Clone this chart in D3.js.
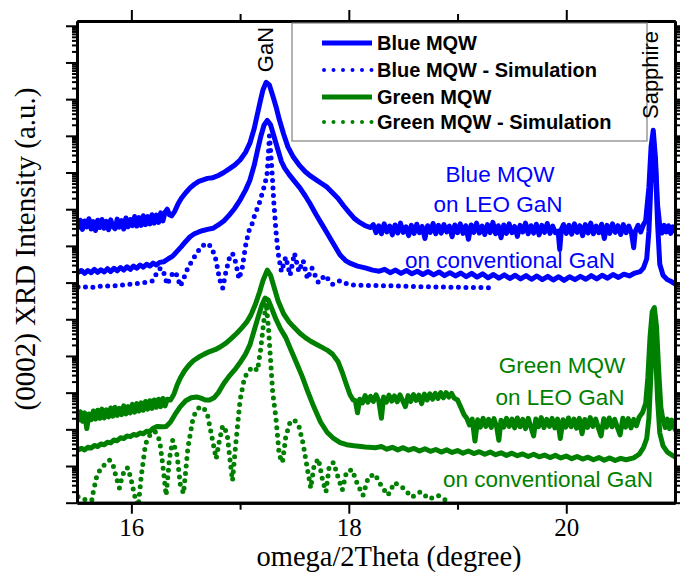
<!DOCTYPE html>
<html><head><meta charset="utf-8">
<script src="https://cdn.jsdelivr.net/npm/d3@7"></script>
<style>body{margin:0;background:#fff}svg{display:block}</style>
</head><body>
<svg id="c" width="680" height="572"></svg>
<script>
// ---- data: [omega/2Theta (deg), log10 intensity (a.u.)] ----
const blueLeo = [[15.51,7.50],[15.53,7.70],[15.55,7.45],[15.57,7.68],[15.59,7.52],[15.61,7.74],[15.63,7.46],[15.65,7.66],[15.67,7.42],[15.69,7.70],[15.71,7.50],[15.73,7.72],[15.75,7.48],[15.77,7.67],[15.79,7.44],[15.81,7.71],[15.83,7.53],[15.85,7.47],[15.87,7.73],[15.89,7.51],[15.91,7.69],[15.93,7.46],[15.95,7.76],[15.97,7.52],[15.99,7.72],[16.01,7.55],[16.03,7.80],[16.05,7.54],[16.07,7.77],[16.09,7.56],[16.11,7.82],[16.13,7.58],[16.15,7.80],[16.17,7.60],[16.19,7.85],[16.21,7.62],[16.23,7.84],[16.25,7.64],[16.27,7.90],[16.29,7.68],[16.31,7.92],[16.33,8.00],[16.35,7.85],[16.37,7.82],[16.40,7.95],[16.43,8.15],[16.46,8.30],[16.50,8.45],[16.54,8.58],[16.58,8.68],[16.62,8.76],[16.66,8.80],[16.70,8.84],[16.75,8.86],[16.80,8.92],[16.85,9.00],[16.90,9.10],[16.95,9.20],[17.00,9.34],[17.05,9.55],[17.09,9.80],[17.13,10.20],[17.16,10.60],[17.19,11.00],[17.21,11.25],[17.24,11.46],[17.27,11.38],[17.30,11.10],[17.33,10.80],[17.36,10.45],[17.40,10.05],[17.44,9.70],[17.49,9.42],[17.55,9.18],[17.60,9.02],[17.65,8.90],[17.70,8.80],[17.75,8.70],[17.80,8.60],[17.85,8.45],[17.90,8.30],[17.95,8.10],[18.00,7.92],[18.05,7.75],[18.10,7.64],[18.15,7.55],[18.20,7.50],[18.225,7.58],[18.25,7.36],[18.275,7.55],[18.30,7.33],[18.325,7.60],[18.35,7.38],[18.375,7.54],[18.40,7.30],[18.425,7.57],[18.45,7.35],[18.475,7.62],[18.50,7.37],[18.525,7.52],[18.55,7.28],[18.575,7.56],[18.60,7.34],[18.625,7.59],[18.65,7.36],[18.675,7.53],[18.70,7.20],[18.725,7.55],[18.75,7.37],[18.775,7.61],[18.80,7.33],[18.825,7.56],[18.85,7.35],[18.875,7.58],[18.90,7.38],[18.925,7.54],[18.95,7.25],[18.975,7.57],[19.00,7.36],[19.025,7.60],[19.05,7.34],[19.075,7.55],[19.10,7.18],[19.125,7.57],[19.15,7.37],[19.175,7.62],[19.20,7.35],[19.225,7.54],[19.25,7.31],[19.275,7.58],[19.30,7.36],[19.325,7.64],[19.35,7.33],[19.375,7.55],[19.40,7.22],[19.425,7.57],[19.45,7.34],[19.475,7.60],[19.50,7.36],[19.525,7.53],[19.55,7.26],[19.575,7.56],[19.60,7.38],[19.625,7.62],[19.65,7.33],[19.675,7.55],[19.70,7.35],[19.725,7.59],[19.75,7.30],[19.775,7.56],[19.80,7.37],[19.825,7.61],[19.85,7.34],[19.875,7.54],[19.90,7.36],[19.925,7.40],[19.94,6.90],[19.955,7.45],[19.975,7.58],[20.00,7.34],[20.025,7.56],[20.05,7.32],[20.075,7.60],[20.10,7.37],[20.125,7.55],[20.15,7.28],[20.175,7.58],[20.20,7.35],[20.225,7.62],[20.25,7.33],[20.275,7.54],[20.30,7.36],[20.325,7.59],[20.35,7.20],[20.375,7.56],[20.40,7.34],[20.425,7.60],[20.45,7.37],[20.475,7.55],[20.50,7.31],[20.525,7.58],[20.55,7.36],[20.575,7.54],[20.60,7.35],[20.62,6.95],[20.635,7.40],[20.66,7.56],[20.685,7.38],[20.71,7.58],[20.73,7.68],[20.76,8.60],[20.78,9.70],[20.80,10.15],[20.82,9.40],[20.84,8.10],[20.86,7.55],[20.88,7.35],[20.90,7.56],[20.92,7.38],[20.94,7.55],[20.96,7.34],[20.98,7.52],[21.00,7.40]];

const blueConv = [[15.51,6.28],[15.54,6.33],[15.57,6.25],[15.60,6.33],[15.63,6.27],[15.66,6.36],[15.69,6.28],[15.72,6.35],[15.75,6.29],[15.78,6.38],[15.81,6.30],[15.84,6.39],[15.87,6.32],[15.90,6.41],[15.93,6.34],[15.96,6.43],[15.99,6.36],[16.02,6.45],[16.05,6.39],[16.08,6.48],[16.11,6.42],[16.14,6.50],[16.17,6.45],[16.20,6.53],[16.23,6.48],[16.26,6.55],[16.30,6.57],[16.34,6.65],[16.38,6.72],[16.42,6.85],[16.46,6.98],[16.50,7.12],[16.54,7.25],[16.58,7.33],[16.62,7.38],[16.66,7.42],[16.70,7.45],[16.75,7.48],[16.80,7.57],[16.85,7.68],[16.90,7.84],[16.95,8.02],[17.00,8.25],[17.05,8.52],[17.09,8.79],[17.13,9.20],[17.16,9.60],[17.19,9.98],[17.22,10.29],[17.25,10.42],[17.28,10.30],[17.31,10.00],[17.35,9.60],[17.38,9.30],[17.41,9.12],[17.45,8.95],[17.49,8.80],[17.55,8.58],[17.60,8.36],[17.64,8.17],[17.70,7.85],[17.75,7.60],[17.80,7.35],[17.85,7.10],[17.92,6.75],[17.97,6.60],[18.01,6.53],[18.08,6.45],[18.15,6.40],[18.22,6.34],[18.28,6.31],[18.33,6.36],[18.38,6.27],[18.43,6.34],[18.48,6.25],[18.53,6.33],[18.58,6.24],[18.63,6.31],[18.68,6.22],[18.73,6.30],[18.78,6.21],[18.83,6.29],[18.88,6.19],[18.93,6.27],[18.98,6.18],[19.03,6.26],[19.08,6.16],[19.13,6.25],[19.18,6.15],[19.23,6.24],[19.28,6.13],[19.33,6.22],[19.38,6.12],[19.43,6.21],[19.48,6.11],[19.53,6.20],[19.58,6.10],[19.63,6.19],[19.68,6.09],[19.73,6.18],[19.78,6.08],[19.83,6.17],[19.88,6.07],[19.93,6.16],[19.98,6.06],[20.03,6.16],[20.08,6.08],[20.13,6.17],[20.18,6.09],[20.23,6.19],[20.28,6.10],[20.33,6.20],[20.38,6.12],[20.43,6.22],[20.48,6.14],[20.53,6.23],[20.58,6.18],[20.63,6.26],[20.68,6.30],[20.71,6.40],[20.74,6.65],[20.76,7.40],[20.78,8.80],[20.80,9.95],[20.82,9.20],[20.84,7.60],[20.86,6.50],[20.89,6.20],[20.93,6.08],[20.97,6.02],[21.00,5.96]];

const blueSim = [[15.51,5.88],[15.55,5.86],[15.60,5.89],[15.65,5.87],[15.70,5.90],[15.75,5.89],[15.80,5.92],[15.85,5.91],[15.90,5.94],[15.95,5.93],[16.00,5.96],[16.05,5.97],[16.10,5.99],[16.15,6.02],[16.20,6.05],[16.24,6.30],[16.27,6.40],[16.30,6.25],[16.33,5.95],[16.36,6.15],[16.39,6.30],[16.42,6.20],[16.45,5.90],[16.48,6.10],[16.52,6.40],[16.56,6.60],[16.60,6.80],[16.65,7.00],[16.70,7.07],[16.74,6.95],[16.78,6.60],[16.81,6.10],[16.84,5.85],[16.87,6.30],[16.90,6.65],[16.93,6.80],[16.96,6.55],[16.99,6.10],[17.02,6.40],[17.05,7.00],[17.08,7.40],[17.11,7.60],[17.14,7.90],[17.17,8.10],[17.20,8.40],[17.23,8.70],[17.25,9.00],[17.27,10.00],[17.29,9.20],[17.31,8.20],[17.33,7.40],[17.35,6.80],[17.38,6.30],[17.42,6.70],[17.46,6.20],[17.50,6.80],[17.54,6.30],[17.58,6.60],[17.62,6.10],[17.66,6.40],[17.72,6.00],[17.78,6.20],[17.85,5.95],[17.92,6.05],[18.00,5.94],[18.20,5.92],[18.40,5.91],[18.60,5.89],[18.80,5.88],[19.00,5.87],[19.30,5.86]];

const greenLeo = [[15.51,2.25],[15.53,2.48],[15.55,2.22],[15.57,2.45],[15.59,2.02],[15.61,2.42],[15.63,2.26],[15.65,2.50],[15.67,2.28],[15.69,2.52],[15.71,2.30],[15.73,2.55],[15.75,2.31],[15.77,2.53],[15.79,2.34],[15.81,2.58],[15.83,2.36],[15.85,2.60],[15.87,2.38],[15.89,2.57],[15.91,2.40],[15.93,2.64],[15.95,2.42],[15.97,2.62],[15.99,2.45],[16.01,2.68],[16.03,2.47],[16.05,2.70],[16.07,2.50],[16.09,2.72],[16.11,2.52],[16.13,2.76],[16.15,2.55],[16.17,2.78],[16.19,2.57],[16.21,2.80],[16.23,2.60],[16.25,2.82],[16.27,2.62],[16.29,2.84],[16.31,2.64],[16.33,2.82],[16.36,2.80],[16.39,2.95],[16.42,3.20],[16.45,3.40],[16.49,3.60],[16.53,3.75],[16.57,3.87],[16.62,3.97],[16.67,4.05],[16.72,4.12],[16.77,4.17],[16.82,4.25],[16.87,4.35],[16.92,4.48],[16.97,4.62],[17.02,4.78],[17.06,4.92],[17.10,5.12],[17.14,5.40],[17.18,5.75],[17.21,6.05],[17.25,6.34],[17.28,6.20],[17.31,5.90],[17.35,5.50],[17.40,5.15],[17.45,4.93],[17.49,4.80],[17.55,4.62],[17.60,4.50],[17.65,4.40],[17.70,4.32],[17.75,4.24],[17.80,4.16],[17.85,4.05],[17.90,3.85],[17.94,3.55],[17.98,3.20],[18.01,2.95],[18.04,2.80],[18.06,2.78],[18.08,2.45],[18.10,2.82],[18.125,2.72],[18.15,2.92],[18.175,2.74],[18.20,2.90],[18.225,2.76],[18.25,2.94],[18.275,2.78],[18.30,2.30],[18.32,2.88],[18.345,2.74],[18.37,2.93],[18.395,2.77],[18.42,2.91],[18.445,2.75],[18.47,2.94],[18.495,2.78],[18.52,2.62],[18.545,2.92],[18.57,2.76],[18.595,2.95],[18.62,2.79],[18.645,2.93],[18.67,2.70],[18.695,2.96],[18.72,2.80],[18.745,2.97],[18.77,2.82],[18.795,2.98],[18.82,2.84],[18.845,3.00],[18.87,2.86],[18.895,3.00],[18.92,2.88],[18.945,2.98],[18.97,2.85],[19.00,2.80],[19.03,2.60],[19.06,2.40],[19.085,2.30],[19.11,2.12],[19.135,2.28],[19.16,1.68],[19.185,2.26],[19.21,2.06],[19.235,2.30],[19.26,2.08],[19.285,2.27],[19.31,2.05],[19.335,2.29],[19.36,2.07],[19.38,1.70],[19.40,2.25],[19.425,2.06],[19.45,2.30],[19.475,2.08],[19.50,2.28],[19.525,2.04],[19.55,2.31],[19.575,2.07],[19.60,2.27],[19.625,2.02],[19.65,2.30],[19.675,2.06],[19.70,1.82],[19.72,2.28],[19.745,2.07],[19.77,2.32],[19.795,2.05],[19.82,2.27],[19.845,2.08],[19.87,2.30],[19.895,2.04],[19.92,2.28],[19.945,1.75],[19.97,2.26],[19.995,2.06],[20.02,2.31],[20.045,2.07],[20.07,2.28],[20.095,2.03],[20.12,2.30],[20.145,1.88],[20.17,2.27],[20.195,2.05],[20.22,2.32],[20.245,2.08],[20.27,2.28],[20.295,2.04],[20.32,1.82],[20.345,2.29],[20.37,2.06],[20.395,2.31],[20.42,2.07],[20.445,2.27],[20.47,2.05],[20.495,1.85],[20.52,2.30],[20.545,2.06],[20.57,2.29],[20.595,2.04],[20.62,2.27],[20.645,2.10],[20.67,2.33],[20.70,2.45],[20.73,2.70],[20.75,3.40],[20.77,4.50],[20.79,5.20],[20.81,5.32],[20.83,4.80],[20.85,3.60],[20.87,2.60],[20.89,2.25],[20.91,2.05],[20.93,2.28],[20.95,2.02],[20.97,2.25],[21.00,2.00]];

const greenConv = [[15.51,1.44],[15.54,1.48],[15.57,1.44],[15.60,1.51],[15.63,1.49],[15.66,1.56],[15.69,1.53],[15.72,1.60],[15.75,1.58],[15.78,1.65],[15.81,1.63],[15.84,1.71],[15.87,1.69],[15.90,1.77],[15.93,1.75],[15.96,1.82],[15.99,1.80],[16.02,1.86],[16.05,1.84],[16.08,1.90],[16.11,1.88],[16.14,1.95],[16.17,1.94],[16.20,2.03],[16.24,2.08],[16.28,2.07],[16.32,2.08],[16.36,2.20],[16.40,2.40],[16.45,2.62],[16.50,2.78],[16.55,2.86],[16.60,2.88],[16.64,2.85],[16.68,2.80],[16.72,2.80],[16.76,2.86],[16.80,3.00],[16.85,3.25],[16.90,3.45],[16.95,3.62],[17.00,3.82],[17.05,4.05],[17.09,4.30],[17.13,4.70],[17.17,5.10],[17.20,5.38],[17.23,5.58],[17.26,5.52],[17.29,5.30],[17.33,5.00],[17.37,4.75],[17.42,4.50],[17.47,4.15],[17.52,3.80],[17.57,3.45],[17.62,3.05],[17.68,2.60],[17.74,2.20],[17.80,1.92],[17.86,1.75],[17.92,1.64],[17.98,1.58],[18.05,1.55],[18.15,1.52],[18.25,1.50],[18.30,1.53],[18.35,1.46],[18.40,1.51],[18.45,1.44],[18.50,1.50],[18.55,1.43],[18.60,1.48],[18.65,1.41],[18.70,1.47],[18.75,1.40],[18.80,1.45],[18.85,1.38],[18.90,1.44],[18.95,1.37],[19.00,1.42],[19.05,1.35],[19.10,1.41],[19.15,1.34],[19.20,1.39],[19.25,1.32],[19.30,1.38],[19.35,1.31],[19.40,1.36],[19.45,1.29],[19.50,1.35],[19.55,1.28],[19.60,1.33],[19.65,1.26],[19.70,1.32],[19.75,1.25],[19.80,1.30],[19.85,1.23],[19.90,1.29],[19.95,1.22],[20.00,1.27],[20.05,1.20],[20.10,1.26],[20.15,1.19],[20.20,1.24],[20.25,1.17],[20.30,1.23],[20.35,1.16],[20.40,1.22],[20.45,1.15],[20.50,1.21],[20.55,1.17],[20.62,1.22],[20.67,1.32],[20.71,1.50],[20.74,1.75],[20.76,2.30],[20.78,3.60],[20.80,5.00],[20.82,4.20],[20.84,2.80],[20.86,1.90],[20.89,1.55],[20.93,1.38],[20.97,1.30],[21.00,1.25]];

const greenSim = [[15.51,0.16],[15.55,0.14],[15.59,0.05],[15.62,-0.20],[15.65,0.30],[15.68,0.70],[15.72,0.95],[15.76,1.05],[15.80,1.16],[15.83,1.05],[15.86,0.70],[15.89,0.40],[15.91,0.65],[15.94,0.92],[15.97,0.95],[16.00,0.60],[16.03,0.20],[16.06,-0.20],[16.09,0.70],[16.13,1.60],[16.18,1.90],[16.22,1.93],[16.26,1.70],[16.29,1.00],[16.32,0.20],[16.35,1.20],[16.38,1.70],[16.42,1.30],[16.45,0.50],[16.48,0.25],[16.52,1.50],[16.57,2.35],[16.62,2.58],[16.66,2.61],[16.70,2.40],[16.74,1.80],[16.78,1.20],[16.81,1.70],[16.84,2.10],[16.88,1.90],[16.91,1.10],[16.93,0.60],[16.96,1.60],[17.00,2.80],[17.04,3.40],[17.08,3.60],[17.12,3.70],[17.16,3.60],[17.19,4.20],[17.22,5.00],[17.24,5.44],[17.26,4.80],[17.28,3.90],[17.30,3.00],[17.33,2.30],[17.36,1.30],[17.39,1.10],[17.42,1.80],[17.46,2.20],[17.50,2.25],[17.54,2.10],[17.58,1.60],[17.62,0.90],[17.65,0.40],[17.68,1.00],[17.72,1.20],[17.76,0.60],[17.79,0.30],[17.82,1.00],[17.86,1.10],[17.90,0.70],[17.94,0.35],[17.98,0.85],[18.03,0.90],[18.08,0.50],[18.13,0.20],[18.18,0.70],[18.24,0.78],[18.30,0.45],[18.36,0.20],[18.42,0.55],[18.50,0.40],[18.58,0.15],[18.66,0.30],[18.74,0.10],[18.82,0.20],[18.90,0.05]];

const xMajorTicks = [16, 18, 20];
const xMinorTicks = [17, 19];
const legendLabels = ["Blue MQW", "Blue MQW - Simulation", "Green MQW", "Green MQW - Simulation"];
const xTitle = "omega/2Theta (degree)";
const yTitle = "(0002) XRD Intensity (a.u.)";

// ---- drawing ----
const BLUE = "#0000ff", GREEN = "#008000";
const svg = d3.select("#c");
const L = 77, R = 675, T = 21, B = 502.7;
const x = d3.scaleLinear().domain([15.5, 21]).range([L, R]);
const y = d3.scaleLog().domain([1, Math.pow(10, 13.13)]).range([B, T]);

svg.append("defs").append("clipPath").attr("id", "clip")
  .append("rect").attr("x", L).attr("y", T).attr("width", R - L).attr("height", B - T);

const line = d3.line().x(d => x(d[0])).y(d => y(Math.pow(10, d[1])));
const plot = svg.append("g").attr("clip-path", "url(#clip)");

function solid(data, color) {
  plot.append("path").datum(data).attr("d", line)
    .attr("fill", "none").attr("stroke", color).attr("stroke-width", 5)
    .attr("stroke-linejoin", "round").attr("stroke-linecap", "round");
}
function dotted(data, color) {
  plot.append("path").datum(data).attr("d", line)
    .attr("fill", "none").attr("stroke", color).attr("stroke-width", 5)
    .attr("stroke-dasharray", "0 7.5").attr("stroke-linecap", "round");
}
solid(blueLeo, BLUE);
solid(blueConv, BLUE);
dotted(blueSim, BLUE);
solid(greenLeo, GREEN);
solid(greenConv, GREEN);
dotted(greenSim, GREEN);

// log ticks
const majorY = [], minorY = [];
for (let k = 0; k <= 13; k++) {
  majorY.push(Math.pow(10, k));
  if (k < 13) for (let m = 2; m <= 9; m++) minorY.push(m * Math.pow(10, k));
}
const ax = svg.append("g");
function styleAxis(g) {
  g.selectAll("path.domain").attr("stroke", "#000").attr("stroke-width", 3);
  g.selectAll(".tick line").attr("stroke", "#000").attr("stroke-width", 2);
}
ax.append("g").attr("transform", `translate(${L},0)`)
  .call(d3.axisLeft(y).tickValues(minorY).tickSize(5).tickSizeOuter(0).tickFormat(""))
  .call(styleAxis);
ax.append("g").attr("transform", `translate(${L},0)`)
  .call(d3.axisLeft(y).tickValues(majorY).tickSize(11).tickSizeOuter(0).tickFormat(""))
  .call(styleAxis);
ax.append("g").attr("transform", `translate(${R},0)`)
  .call(d3.axisRight(y).tickValues(minorY).tickSize(5).tickSizeOuter(0).tickFormat(""))
  .call(styleAxis);
ax.append("g").attr("transform", `translate(${R},0)`)
  .call(d3.axisRight(y).tickValues(majorY).tickSize(11).tickSizeOuter(0).tickFormat(""))
  .call(styleAxis);
ax.append("g").attr("transform", `translate(0,${T})`)
  .call(d3.axisTop(x).tickValues(xMinorTicks).tickSize(7).tickSizeOuter(0).tickFormat(""))
  .call(styleAxis);
ax.append("g").attr("transform", `translate(0,${T})`)
  .call(d3.axisTop(x).tickValues(xMajorTicks).tickSize(11).tickSizeOuter(0).tickFormat(""))
  .call(styleAxis);
ax.append("g").attr("transform", `translate(0,${B})`)
  .call(d3.axisBottom(x).tickValues(xMinorTicks).tickSize(7).tickSizeOuter(0).tickFormat(""))
  .call(styleAxis);
const bx = ax.append("g").attr("transform", `translate(0,${B})`)
  .call(d3.axisBottom(x).tickValues(xMajorTicks).tickSize(11).tickSizeOuter(0).tickPadding(5).tickFormat(d3.format("d")))
  .call(styleAxis);
bx.selectAll("text").attr("font-family", "'Liberation Serif', 'Times New Roman', serif")
  .attr("font-size", 25).attr("fill", "#000");

svg.append("text").attr("x", 389).attr("y", 566).attr("text-anchor", "middle")
  .attr("font-family", "'Liberation Serif', 'Times New Roman', serif").attr("font-size", 28.5)
  .text(xTitle);
svg.append("text").attr("transform", "translate(35,249) rotate(-90)").attr("text-anchor", "middle")
  .attr("font-family", "'Liberation Serif', 'Times New Roman', serif").attr("font-size", 29)
  .text(yTitle);

// legend
const lg = svg.append("g");
lg.append("rect").attr("x", 292).attr("y", 23).attr("width", 355).attr("height", 118)
  .attr("fill", "#fff").attr("stroke", "#808080").attr("stroke-width", 1.2);
const legendColors = [BLUE, BLUE, GREEN, GREEN];
const legendDotted = [false, true, false, true];
const legendY = [43, 70, 97, 122];
legendLabels.forEach((lab, i) => {
  const ln = lg.append("line").attr("x1", 322).attr("x2", 372).attr("y1", legendY[i]).attr("y2", legendY[i])
    .attr("stroke", legendColors[i]).attr("stroke-width", legendDotted[i] ? 4 : 5);
  if (legendDotted[i]) ln.attr("stroke-dasharray", "0 9.5").attr("stroke-linecap", "round").attr("x1", 324);
  lg.append("text").attr("x", 377).attr("y", legendY[i] + 7)
    .attr("font-family", "'Liberation Sans', Arial, sans-serif").attr("font-weight", "bold")
    .attr("font-size", 20).text(lab);
});

function label(txt, xx, yy, color, size) {
  svg.append("text").attr("x", xx).attr("y", yy).attr("text-anchor", "middle")
    .attr("font-family", "'Liberation Sans', Arial, sans-serif").attr("font-size", size || 22.5)
    .attr("fill", color).text(txt);
}
label("Blue MQW", 500, 182, BLUE);
label("on LEO GaN", 498, 212, BLUE);
label("on conventional GaN", 510, 268, BLUE);
label("Green MQW", 562, 373, GREEN);
label("on LEO GaN", 560, 405, GREEN);
label("on conventional GaN", 548, 487, GREEN);

svg.append("text").attr("transform", "translate(273,49.5) rotate(-90)").attr("text-anchor", "middle")
  .attr("font-family", "'Liberation Sans', Arial, sans-serif").attr("font-size", 22).text("GaN");
svg.append("text").attr("transform", "translate(658,75) rotate(-90)").attr("text-anchor", "middle")
  .attr("font-family", "'Liberation Sans', Arial, sans-serif").attr("font-size", 22).text("Sapphire");
</script>
</body></html>
